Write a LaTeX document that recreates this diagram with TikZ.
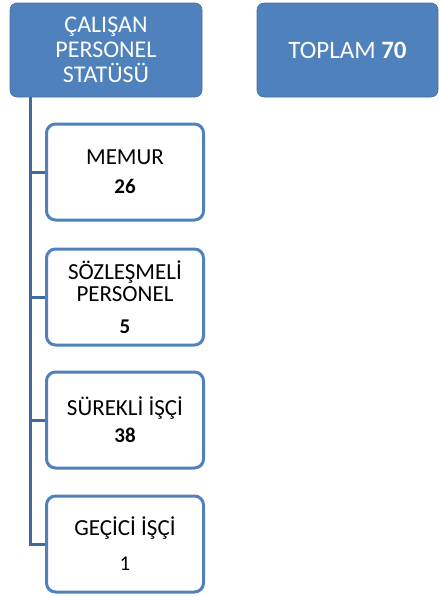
\documentclass[tikz,border=0pt]{standalone}
\usepackage{fontspec}
\setmainfont{Carlito}
\usepackage{xcolor}
\usepackage{tikz}
\usetikzlibrary{positioning}

\definecolor{officeblue}{HTML}{4F81BD}
\definecolor{linkblue}{HTML}{3E6AA0}

\begin{document}
\begin{tikzpicture}[
    x=1pt, y=-1pt,
    header/.style={rectangle, rounded corners=7pt, fill=officeblue, draw=officeblue!85!black, line width=0.6pt, text=white, minimum width=192pt, minimum height=94pt, align=center, font=\fontsize{24}{25}\selectfont},
    status/.style={rectangle, rounded corners=9pt, fill=white, draw=officeblue, line width=3pt, minimum width=157pt, minimum height=96pt, align=center, font=\fontsize{23}{22}\selectfont},
    branch/.style={draw=linkblue, line width=3pt}
]

\useasboundingbox (0,0) rectangle (439,597);

\node[header] (head) at (106,50) {ÇALIŞAN\\PERSONEL\\STATÜSÜ};
\node[header, minimum width=181pt, font=\fontsize{25}{27}\selectfont] (total) at (347.5,50) {TOPLAM \textbf{70}};

\node[status] (memur) at (125,172) {MEMUR\\[7pt]{\fontsize{21}{22}\selectfont\bfseries 26}};
\node[status] (sozlesmeli) at (125,297) {SÖZLEŞMELİ\\PERSONEL\\[10pt]{\fontsize{21}{22}\selectfont\bfseries 5}};
\node[status] (surekli) at (125,420) {SÜREKLİ İŞÇİ\\[5pt]{\fontsize{21}{22}\selectfont\bfseries 38}};
\node[status] (gecici) at (125,544) {GEÇİCİ İŞÇİ\\[13pt]{\fontsize{21}{22}\selectfont 1}};

\coordinate (spine) at (30,97);

\draw[branch] (spine) |- (gecici.west);
\draw[branch] (spine |- memur.west) -- (memur.west);
\draw[branch] (spine |- sozlesmeli.west) -- (sozlesmeli.west);
\draw[branch] (spine |- surekli.west) -- (surekli.west);

\end{tikzpicture}
\end{document}
